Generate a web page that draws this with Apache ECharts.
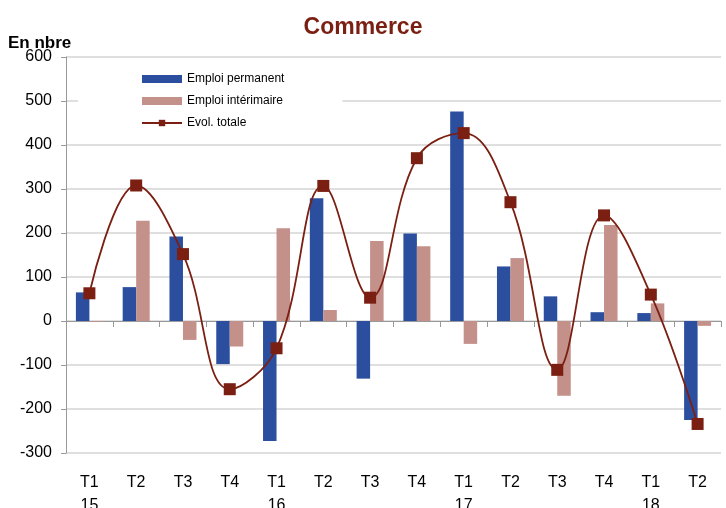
<!DOCTYPE html>
<html><head><meta charset="utf-8">
<script src="https://cdn.jsdelivr.net/npm/echarts@6/dist/echarts.min.js"></script>
<style>html,body{margin:0;padding:0;background:#fff}#c{width:726px;height:508px}</style>
</head><body><div id="c"></div>
<script>
const categories = ["T1\n15","T2","T3","T4","T1\n16","T2","T3","T4","T1\n17","T2","T3","T4","T1\n18","T2"];
const emploiPermanent = [65, 77, 192, -98, -273, 279, -131, 199, 476, 124, 56, 20, 18, -225];
const emploiInterimaire = [-2, 228, -43, -58, 211, 25, 182, 170, -52, 143, -170, 218, 40, -11];
const evolTotale = [63, 308, 152, -155, -62, 307, 53, 370, 427, 270, -111, 240, 60, -234];
const yTicks = { min: -300, max: 600, interval: 100 };

const chart = echarts.init(document.getElementById('c'));
const font = '"Liberation Sans", Arial, sans-serif';
chart.setOption({
  animation: false,
  title: { text: 'Commerce', left: 'center', top: 11,
    textStyle: { fontFamily: font, fontWeight: 'bold', fontSize: 23, color: '#7A1F12' } },
  graphic: [{ type: 'text', left: 8, top: 35,
    style: { text: 'En nbre', font: 'bold 17px ' + font, fill: '#000' } }],
  legend: {
    orient: 'vertical', left: 78, top: 67, backgroundColor: '#fff',
    padding: [6, 58, 8, 63], itemGap: 10, itemWidth: 40, itemHeight: 8,
    textStyle: { fontFamily: font, fontSize: 12, color: '#000' },
    data: [
      { name: 'Emploi permanent', icon: 'rect' },
      { name: 'Emploi intérimaire', icon: 'rect' },
      { name: 'Evol. totale' }
    ]
  },
  grid: { left: 66, right: 5, top: 57, bottom: 55, containLabel: false, outerBoundsMode: 'none' },
  xAxis: [
    { type: 'category', data: categories, position: 'bottom',
      axisLine: { show: false, onZero: false }, axisTick: { show: false },
      axisLabel: { fontFamily: font, fontSize: 16, color: '#000', margin: 18, lineHeight: 23, verticalAlign: 'top', interval: 0 } },
    { type: 'category', data: categories, position: 'bottom',
      axisLine: { show: true, onZero: true, lineStyle: { color: '#999', width: 1 } },
      axisTick: { show: true, length: 6, lineStyle: { color: '#999' } },
      axisLabel: { show: false } }
  ],
  yAxis: {
    type: 'value', min: yTicks.min, max: yTicks.max, interval: yTicks.interval,
    axisLine: { show: true, lineStyle: { color: '#999' } },
    axisTick: { show: true, length: 5, lineStyle: { color: '#999' } },
    axisLabel: { fontFamily: font, fontSize: 16, color: '#000', margin: 14 },
    splitLine: { lineStyle: { color: '#d4d4d4', width: 1.5 } }
  },
  series: [
    { name: 'Emploi permanent', type: 'bar', data: emploiPermanent, barWidth: 13.5, barGap: '0%',
      itemStyle: { color: '#2B4F9E' } },
    { name: 'Emploi intérimaire', type: 'bar', data: emploiInterimaire, barWidth: 13.5, barGap: '0%',
      itemStyle: { color: '#C4908A' } },
    { name: 'Evol. totale', type: 'line', data: evolTotale, smooth: 0.4,
      symbol: 'rect', symbolSize: 12, z: 5,
      lineStyle: { color: '#7A1F12', width: 1.8 },
      itemStyle: { color: '#7A1F12' } }
  ]
});
</script></body></html>
